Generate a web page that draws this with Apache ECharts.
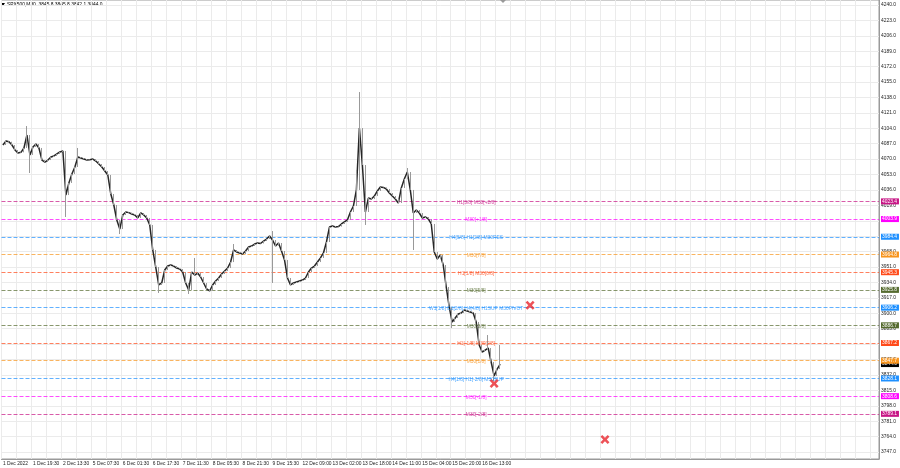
<!DOCTYPE html>
<html><head><meta charset="utf-8">
<script src="https://cdn.jsdelivr.net/npm/echarts@6/dist/echarts.min.js"></script>
<style>html,body{margin:0;padding:0;background:#fff}#c{width:900px;height:468px}</style>
</head><body><div id="c"></div>
<script>
// ---------- data ----------
const symbolName = 'SPX500,M30';
const lastBar = [3845.8, 3845.8, 3842.1, 3844.0]; // O H L C
const currentPrice = 3844.0;

const timeLabels = ['1 Dec 2022','1 Dec 19:30','2 Dec 13:30','5 Dec 07:30','6 Dec 01:30','6 Dec 17:30',
  '7 Dec 11:30','8 Dec 05:30','8 Dec 21:30','9 Dec 15:30','12 Dec 09:00','13 Dec 02:00','13 Dec 18:00',
  '14 Dec 11:00','15 Dec 04:00','15 Dec 20:00','16 Dec 13:00'];

const yTicks = [4240,4223,4206,4189,4172,4155,4138,4121,4104,4087,4070,4053,4036,4019,4002,3985,
  3968,3951,3934,3917,3900,3883,3866,3849,3832,3815,3798,3781,3764,3747];

const firstOpen = 4086.7;
const closes = [
  4085.6,4090.0,4089.2,4085.6,4080.1,4076.8,4077.5,4082.3,4096.6,4074.6,
  4083.4,4086.7,4082.3,4069.0,4066.8,4069.0,4072.3,4073.5,4075.7,4077.9,
  4079.0,4030.4,4043.7,4053.6,4061.3,4072.3,4071.2,4070.1,4069.0,4069.4,
  4070.1,4067.9,4064.6,4061.3,4056.9,4052.5,4031.5,4019.4,4002.9,3992.9,
  4008.4,4011.7,4011.0,4009.5,4008.4,4005.1,4010.6,4008.4,4005.1,3997.4,
  3969.8,3951.0,3931.2,3933.4,3947.7,3952.1,3953.2,3952.1,3949.9,3948.8,
  3945.5,3933.4,3925.7,3945.5,3942.2,3944.4,3940.0,3933.4,3926.8,3924.6,
  3931.2,3935.6,3938.9,3943.3,3946.6,3949.9,3956.5,3969.8,3967.6,3966.5,
  3965.4,3968.7,3973.1,3974.2,3976.4,3977.5,3977.0,3979.7,3981.9,3985.2,
  3980.8,3974.2,3977.5,3968.7,3958.8,3938.9,3931.2,3933.4,3934.5,3935.6,
  3936.7,3938.9,3945.5,3949.9,3952.1,3956.5,3961.0,3966.5,3978.6,3995.1,
  3996.2,3995.1,3995.6,3998.5,4000.7,4002.9,4011.7,4018.3,4036.0,4104.3,
  4063.5,4011.7,4027.1,4026.0,4029.3,4034.9,4039.3,4038.8,4037.1,4032.6,
  4029.3,4026.0,4021.6,4038.2,4048.1,4055.8,4036.0,4010.6,4013.9,4010.6,
  4005.1,4006.2,4004.0,3998.5,3967.6,3959.9,3964.3,3953.2,3929.0,3906.9,
  3890.4,3894.8,3899.2,3900.3,3903.6,3902.5,3901.4,3900.3,3890.4,3865.0,
  3857.3,3859.5,3861.7,3846.3,3830.8,3838.5,3844.0
];
const wickHigh = {8:4106.5, 25:4082.3, 64:3961.0, 77:3976.4, 90:3990.7, 118:4058.0,
  119:4144.0, 120:4096.6, 135:4060.2, 162:3876.0, 166:3865.0};
const wickLow = {9:4054.7, 21:4006.2, 39:3987.4, 52:3922.4, 62:3921.3, 90:3933.4,
  121:3997.4, 137:3969.8, 150:3883.8, 164:3825.3};

const levelValues = [4023.4,4003.9,3984.4,3964.8,3945.3,3925.8,3906.2,3886.7,3867.2,3847.7,3828.1,3808.6,3789.1];
const levelTexts = ['H1[3/8] M30[+2/8]','M30[+1/8]','H4[5/8] H1[2/8] M30RES','M30[7/8]','H1[1/8] M30[6/8]',
  'M30[5/8]','W1[1/8] D1[2/8] H4[4/8] H1SUP M30PIVOT','M30[3/8]','H1[-1/8] M30[2/8]','M30[1/8]',
  'H4[1/8] H1[-2/8] M30SUP','M30[-1/8]','M30[-2/8]'];
const levelColors = ['#c71585','#ff00ff','#1e90ff','#f7941d','#ff4a1a','#556b2f','#1e90ff',
  '#556b2f','#ff4a1a','#f7941d','#1e90ff','#ff00ff','#c71585'];

const crossMarks = [[176, 3908.8], [164, 3822.6], [201, 3760.8]];

// ---------- layout constants ----------
const CATEGORY_COUNT = 293;
const LABEL_EVERY = 10;
const GRID_EVERY = 5;
const LEVEL_LABEL_INDEX = 158;
const FONT = 'Liberation Sans';
const FS = 4.9;

function fade(hex, a) {
  const n = parseInt(hex.slice(1), 16);
  return 'rgba(' + (n >> 16 & 255) + ',' + (n >> 8 & 255) + ',' + (n & 255) + ',' + a + ')';
}

// ---------- build ----------
const cats = [];
for (let i = 0; i < CATEGORY_COUNT; i++) cats.push(String(i));
const candles = closes.map((c, i) => {
  const o = i === 0 ? firstOpen : closes[i - 1];
  let lo = Math.min(o, c), hi = Math.max(o, c);
  if (wickLow[i] !== undefined) lo = Math.min(lo, wickLow[i]);
  if (wickHigh[i] !== undefined) hi = Math.max(hi, wickHigh[i]);
  return [o, c, lo, hi];
});

const chart = echarts.init(document.getElementById('c'), null, {renderer: 'canvas'});
const option = {
  animation: false,
  backgroundColor: '#ffffff',
  grid: {left: 0, right: 21, top: 0, bottom: 9, show: true, borderColor: '#9a9a9a', borderWidth: 1, backgroundColor: '#fff'},
  xAxis: {
    type: 'category', data: cats, boundaryGap: true,
    axisLine: {show: true, lineStyle: {color: '#9a9a9a'}},
    axisTick: {show: false},
    axisLabel: {
      interval: 0, align: 'left', margin: 2, fontSize: FS, fontFamily: FONT, color: '#222',
      formatter: (v, i) => (i % LABEL_EVERY === 0 && timeLabels[i / LABEL_EVERY]) ? timeLabels[i / LABEL_EVERY] : ''
    },
    splitLine: {show: true, interval: (i) => i % GRID_EVERY === 0, lineStyle: {color: '#ebebeb', width: 1}}
  },
  yAxis: {
    type: 'value', position: 'right', min: 3739.3, max: 4245.5, scale: true,
    axisLine: {show: true, lineStyle: {color: '#9a9a9a'}},
    axisTick: {show: false},
    splitLine: {show: false},
    axisLabel: {customValues: yTicks, margin: 2, fontSize: FS, fontFamily: FONT, color: '#222',
      formatter: v => v.toFixed(1)}
  },
  series: [
    { // horizontal grid
      type: 'line', data: [], silent: true, z: 1,
      markLine: {silent: true, symbol: 'none', animation: false,
        lineStyle: {color: '#ebebeb', type: 'solid', width: 1}, label: {show: false},
        data: yTicks.map(v => ({yAxis: v}))}
    },
    { // current price box
      type: 'line', data: [], silent: true, z: 2,
      markLine: {silent: true, symbol: 'none', animation: false,
        lineStyle: {color: 'rgba(0,0,0,0)', width: 0},
        label: {show: true, position: 'end', distance: 2, formatter: currentPrice.toFixed(1), color: '#fff',
          backgroundColor: '#000', padding: [1, 2, 0, 1], fontSize: FS, fontFamily: FONT},
        data: [{yAxis: currentPrice}]}
    },
    { // level lines + right axis boxes
      type: 'line', data: [], silent: true, z: 3,
      markLine: {silent: true, symbol: 'none', animation: false,
        data: levelValues.map((v, k) => ({
          yAxis: v,
          lineStyle: {color: fade(levelColors[k], 0.7), type: [4, 2], width: 1},
          label: {show: true, position: 'end', distance: 2, formatter: v.toFixed(1), color: '#fff',
            backgroundColor: levelColors[k], padding: [1, 2, 0, 1], fontSize: FS, fontFamily: FONT}
        }))}
    },
    {
      type: 'candlestick', data: candles, barWidth: 1, z: 5,
      itemStyle: {color: '#888', color0: '#888', borderColor: '#999', borderColor0: '#999', borderWidth: 1}
    },
    { // close path
      type: 'line', data: closes, symbol: 'none', silent: true, z: 5,
      lineStyle: {color: '#262626', width: 1.5}
    },
    { // level texts
      type: 'scatter', symbolSize: 0, silent: true, z: 6,
      data: levelValues.map((v, k) => ({
        value: [LEVEL_LABEL_INDEX, v],
        label: {show: true, position: 'inside', offset: [0, 1], formatter: levelTexts[k],
          color: levelColors[k], fontSize: FS, fontFamily: FONT}
      }))
    },
    { // red crosses
      type: 'scatter', z: 7, silent: true,
      symbol: 'path://M2,0 L5,3 L8,0 L10,2 L7,5 L10,8 L8,10 L5,7 L2,10 L0,8 L3,5 L0,2 Z',
      symbolSize: 9, itemStyle: {color: '#e8262d'},
      data: crossMarks
    }
  ],
  graphic: [
    {type: 'polygon', shape: {points: [[1, 3], [5, 3], [3, 6]]}, style: {fill: '#000'}},
    {type: 'text', left: 7, top: 2, style: {text: symbolName + '  ' + lastBar.map(v => v.toFixed(1)).join(' '),
      fontSize: FS, fontFamily: FONT, fill: '#000'}},
    {type: 'polygon', shape: {points: [[500, 0], [506, 0], [503, 3]]}, style: {fill: '#999'}}
  ]
};
chart.setOption(option);
</script>
</body></html>
